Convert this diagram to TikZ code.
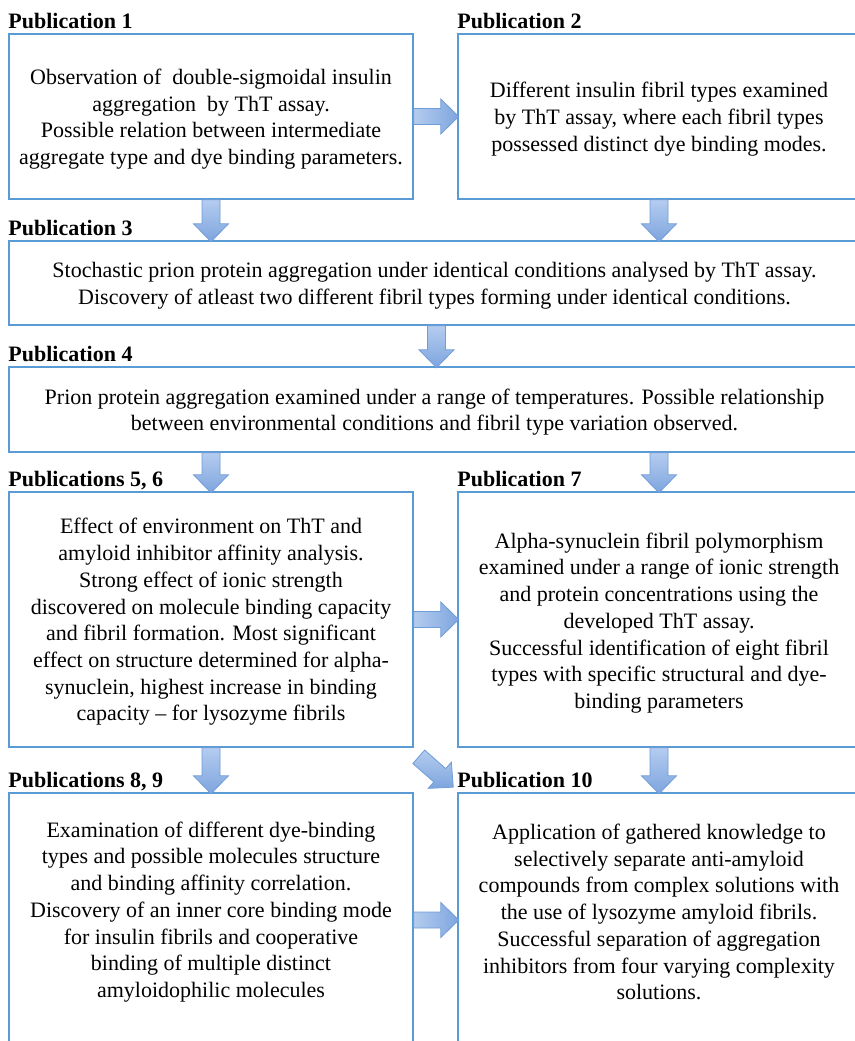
\documentclass[tikz,border=0pt]{standalone}
\usepackage{fontspec}
\setmainfont{Liberation Serif}
\usetikzlibrary{calc}
\definecolor{boxblue}{RGB}{91,155,213}
\definecolor{arrtop}{RGB}{180,204,239}
\definecolor{arrbot}{RGB}{126,165,222}
\definecolor{arrline}{RGB}{112,156,216}
\newcommand\downarr[2]{\path[blockarr, top color=arrtop, bottom color=arrbot] ($(#1)+(-9,0)$) -- ++(0,{#2-18}) -- ++(-8.5,0) -- ++(17.5,18) -- ++(17.5,-18) -- ++(-8.5,0) -- ++(0,{18-#2}) -- cycle;}
\newcommand\rightarr[2]{\path[blockarr, left color=arrtop, right color=arrbot] ($(#1)+(0,-8)$) -- ++({#2-18},0) -- ++(0,-9.5) -- ++(18,17.5) -- ++(-18,17.5) -- ++(0,-9.5) -- ++({18-#2},0) -- cycle;}
\begin{document}
\begin{tikzpicture}[x=1pt,y=-1pt,
  box/.style={draw=boxblue, line width=1.5pt, inner sep=0pt},
  txt/.style={inner sep=0pt, align=center, font=\fontsize{22}{26.7}\selectfont},
  head/.style={anchor=base west, inner sep=0pt, font=\fontsize{22}{26.7}\selectfont\bfseries},
  blockarr/.style={draw=arrline, line width=0.8pt, line join=miter}]
\useasboundingbox[fill=white] (0,0) rectangle (854,1041);

% boxes
\node[box, minimum width=404pt, minimum height=165pt] (b1) at (211,116.5) {};
\node[box, minimum width=402pt, minimum height=165pt] (b2) at (659,116.5) {};
\node[box, minimum width=851pt, minimum height=84pt] (b3) at (434.5,283) {};
\node[box, minimum width=851pt, minimum height=85pt] (b4) at (434.5,409.5) {};
\node[box, minimum width=404pt, minimum height=255pt] (b5) at (211,619.5) {};
\node[box, minimum width=402pt, minimum height=255pt] (b7) at (659,619.5) {};
\node[box, minimum width=404pt, minimum height=270pt] (b8) at (211,928) {};
\node[box, minimum width=402pt, minimum height=270pt] (b10) at (659,928) {};

% texts
\node[txt] (t1) at ($(b1.center)+(0,2.5)$)
  {Observation of\ \ double-sigmoidal insulin\\aggregation\ \ by ThT assay.\\Possible relation between intermediate\\aggregate type and dye binding parameters.};
\node[txt] (t2) at ($(b2.center)+(0,2.5)$)
  {Different insulin fibril types examined\\by ThT assay, where each fibril types\\possessed distinct dye binding modes.};
\node[txt] (t3) at ($(b3.center)+(0,2.5)$)
  {Stochastic prion protein aggregation under identical conditions analysed by ThT assay.\\Discovery of atleast two different fibril types forming under identical conditions.};
\node[txt] (t4) at ($(b4.center)+(0,2.5)$)
  {Prion protein aggregation examined under a range of temperatures. Possible relationship\\between environmental conditions and fibril type variation observed.};
\node[txt] (t5) at ($(b5.center)+(0,2.5)$)
  {Effect of environment on ThT and\\amyloid inhibitor affinity analysis.\\Strong effect of ionic strength\\discovered on molecule binding capacity\\and fibril formation. Most significant\\effect on structure determined for alpha-\\synuclein, highest increase in binding\\capacity -- for lysozyme fibrils};
\node[txt] (t7) at ($(b7.center)+(0,3.5)$)
  {Alpha-synuclein fibril polymorphism\\examined under a range of ionic strength\\and protein concentrations using the\\developed ThT assay.\\Successful identification of eight fibril\\types with specific structural and dye-\\binding parameters};
\node[txt] (t8) at (211,912)
  {Examination of different dye-binding\\types and possible molecules structure\\and binding affinity correlation.\\Discovery of an inner core binding mode\\for insulin fibrils and cooperative\\binding of multiple distinct\\amyloidophilic molecules};
\node[txt] (t10) at (659,912)
  {Application of gathered knowledge to\\selectively separate anti-amyloid\\compounds from complex solutions with\\the use of lysozyme amyloid fibrils.\\Successful separation of aggregation\\inhibitors from four varying complexity\\solutions.};

% headings
\node[head] (h1) at ($(b1.north west)+(0,-5)$) {Publication 1};
\node[head] (h2) at ($(b2.north west)+(0,-5)$) {Publication 2};
\node[head] (h3) at ($(b3.north west)+(0,-5)$) {Publication 3};
\node[head] (h4) at ($(b4.north west)+(0,-5)$) {Publication 4};
\node[head] (h5) at ($(b5.north west)+(0,-5)$) {Publications 5, 6};
\node[head] (h7) at ($(b7.north west)+(0,-5)$) {Publication 7};
\node[head] (h8) at ($(b8.north west)+(0,-5)$) {Publications 8, 9};
\node[head] (h10) at ($(b10.north west)+(0,-5)$) {Publication 10};

% arrow anchors
\coordinate (c12) at (b1.east);
\coordinate (c13) at (b1.south);
\coordinate (c23) at (b2.south);
\coordinate (c34) at ($(b3.south)+(2,0)$);
\coordinate (c45) at (b5.north |- b4.south);
\coordinate (c47) at (b7.north |- b4.south);
\coordinate (c57) at (b5.east);
\coordinate (c58) at (b5.south);
\coordinate (c710) at (b7.south);
\coordinate (c810) at ($(b8.east |- t8)+(0,8)$);

\rightarr{c12}{45}
\downarr{c13}{42}
\downarr{c23}{42}
\downarr{c34}{42}
\downarr{c45}{40}
\downarr{c47}{40}
\rightarr{c57}{45}
\downarr{c58}{46}
\downarr{c710}{46}
\rightarr{c810}{45}

% diagonal arrow from Publications 5,6 to Publication 10
\begin{scope}[shift={(b5.south east)}]
\path[blockarr, top color=arrtop, bottom color=arrbot]
  (10.9,2.3) -- (31.9,20.8) -- (37.6,14.4) -- (39.5,39.4) -- (14.5,40.6) -- (20.1,34.2) -- (-0.9,15.8) -- cycle;
\end{scope}
\end{tikzpicture}
\end{document}
